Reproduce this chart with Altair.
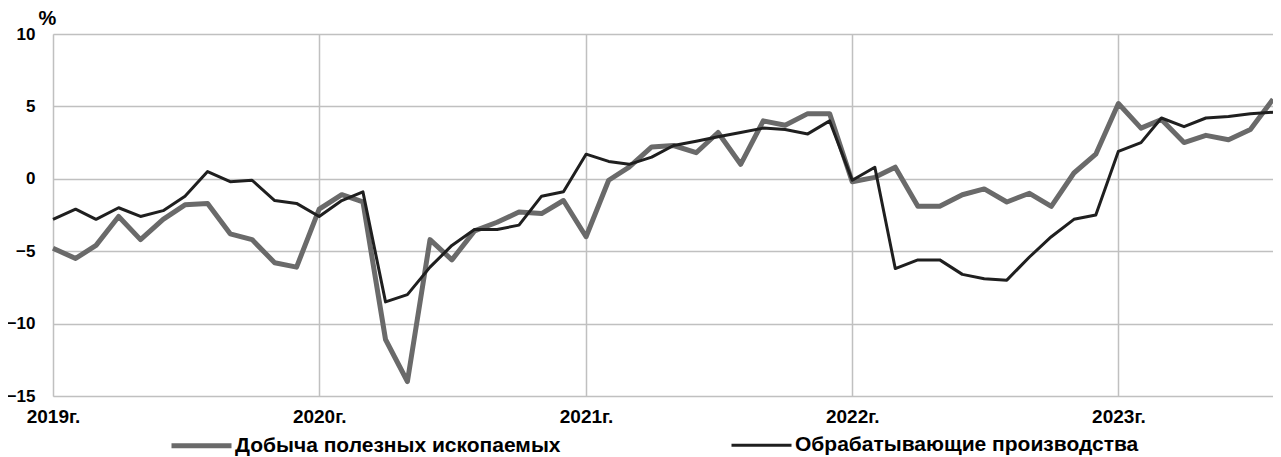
import altair as alt
import pandas as pd

# Monthly, Jan 2019 .. Aug 2023
months = pd.date_range("2019-01-01", periods=56, freq="MS").strftime("%Y-%m-%d").tolist()

series_names = ["Добыча полезных ископаемых", "Обрабатывающие производства"]

mining = [
    -4.8, -5.5, -4.6, -2.6, -4.2, -2.8, -1.8, -1.7, -3.8, -4.2, -5.8, -6.1,
    -2.1, -1.1, -1.6, -11.1, -14.0, -4.2, -5.6, -3.6, -3.0, -2.3, -2.4, -1.5,
    -4.0, -0.1, 0.8, 2.2, 2.3, 1.8, 3.2, 1.0, 4.0, 3.7, 4.5, 4.5,
    -0.2, 0.1, 0.8, -1.9, -1.9, -1.1, -0.7, -1.6, -1.0, -1.9, 0.4, 1.7,
    5.2, 3.5, 4.1, 2.5, 3.0, 2.7, 3.4, 5.5,
]
manufacturing = [
    -2.8, -2.1, -2.8, -2.0, -2.6, -2.2, -1.2, 0.5, -0.2, -0.1, -1.5, -1.7,
    -2.6, -1.5, -0.9, -8.5, -8.0, -6.1, -4.6, -3.5, -3.5, -3.2, -1.2, -0.9,
    1.7, 1.2, 1.0, 1.5, 2.3, 2.6, 2.9, 3.2, 3.5, 3.4, 3.1, 4.0,
    -0.1, 0.8, -6.2, -5.6, -5.6, -6.6, -6.9, -7.0, -5.4, -4.0, -2.8, -2.5,
    1.9, 2.5, 4.2, 3.6, 4.2, 4.3, 4.5, 4.6,
]

rows = []
for d, v in zip(months, mining):
    rows.append({"date": d, "value": v, "series": series_names[0]})
for d, v in zip(months, manufacturing):
    rows.append({"date": d, "value": v, "series": series_names[1]})
df = pd.DataFrame(rows)

FONT = "Liberation Sans"

legend_common = dict(
    title=None,
    orient="none",
    legendX=116,
    legendY=379,
    direction="horizontal",
    columns=2,
    columnPadding=164,
    symbolType="stroke",
    symbolSize=3600,
    labelFont=FONT,
    labelFontSize=21,
    labelFontWeight="bold",
    labelColor="#000000",
    labelOffset=1,
    labelLimit=600,
)

chart = (
    alt.Chart(df)
    .mark_line(strokeJoin="round", strokeCap="butt")
    .encode(
        x=alt.X(
            "date:T",
            scale=alt.Scale(type="utc", domain=["2019-01-01", "2023-08-01"], nice=False),
            axis=alt.Axis(
                title=None,
                format="%Yг.",
                values=["2019-01-01", "2020-01-01", "2021-01-01", "2022-01-01", "2023-01-01"],
                grid=True,
                gridColor="#c0c0c0",
                gridWidth=1.5,
                domain=False,
                ticks=False,
                tickSize=0,
                labelPadding=11,
                labelFont=FONT,
                labelFontSize=19,
                labelFontWeight="bold",
                labelColor="#000000",
                labelFlush=False,
            ),
        ),
        y=alt.Y(
            "value:Q",
            scale=alt.Scale(domain=[-15, 10], nice=False),
            axis=alt.Axis(
                title="%",
                titleAngle=0,
                titleX=-6,
                titleY=-16,
                titleAlign="center",
                titleBaseline="middle",
                titleFont=FONT,
                titleFontSize=20,
                titleFontWeight="bold",
                titleColor="#000000",
                values=[-15, -10, -5, 0, 5, 10],
                grid=True,
                gridColor="#c0c0c0",
                gridWidth=1.5,
                domain=False,
                ticks=False,
                tickSize=0,
                labelPadding=18,
                labelFont=FONT,
                labelFontSize=17,
                labelFontWeight="bold",
                labelColor="#000000",
            ),
        ),
        color=alt.Color(
            "series:N",
            scale=alt.Scale(domain=series_names, range=["#6a6a6a", "#1f1f1f"]),
            legend=alt.Legend(**legend_common),
        ),
        strokeWidth=alt.StrokeWidth(
            "series:N",
            scale=alt.Scale(domain=series_names, range=[5, 3]),
            legend=alt.Legend(**legend_common),
        ),
        order=alt.Order("date:T"),
    )
    .properties(
        width=1220,
        height=362,
        autosize=alt.AutoSizeParams(type="none"),
        padding={"left": 45, "top": 26, "right": 0, "bottom": 62},
    )
    .configure_view(stroke=None)
    .configure(background="#ffffff")
)

chart.save("out.html", embed_options={"renderer": "svg", "actions": False})
